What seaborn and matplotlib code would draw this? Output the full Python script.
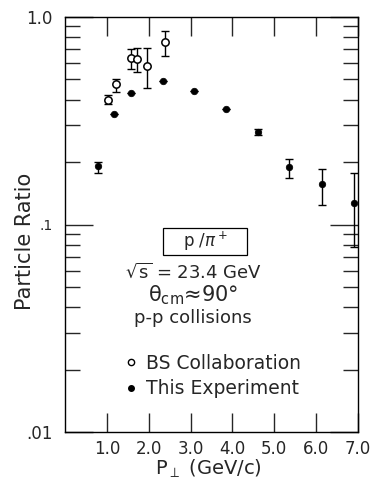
import matplotlib
matplotlib.use("Agg")
import matplotlib.pyplot as plt
import seaborn as sns
import numpy as np
import pandas as pd
from matplotlib.lines import Line2D
from matplotlib.patches import Rectangle
from matplotlib.ticker import FixedLocator, NullFormatter

# --- data ---
exp_pt = [0.78, 1.17, 1.57, 2.33, 3.09, 3.85, 4.60, 5.36, 6.14, 6.90]
exp_ratio = [0.192, 0.340, 0.432, 0.493, 0.438, 0.360, 0.280, 0.189, 0.157, 0.127]
exp_lo = [0.178, 0.340, 0.432, 0.493, 0.438, 0.360, 0.270, 0.168, 0.124, 0.078]
exp_hi = [0.200, 0.340, 0.432, 0.493, 0.438, 0.360, 0.288, 0.207, 0.185, 0.177]

bs_pt = [1.02, 1.215, 1.565, 1.72, 1.96, 2.40]
bs_ratio = [0.398, 0.474, 0.632, 0.625, 0.583, 0.758]
bs_lo = [0.380, 0.433, 0.560, 0.541, 0.456, 0.651]
bs_hi = [0.420, 0.503, 0.699, 0.707, 0.711, 0.856]

x_ticks = [1, 2, 3, 4, 5, 6, 7]
x_labels = ["1.0", "2.0", "3.0", "4.0", "5.0", "6.0", "7.0"]
y_ticks = [0.01, 0.1, 1.0]
y_labels = [".01", ".1", "1.0"]

sns.set_style("ticks")
plt.rcParams['font.family'] = ['DejaVu Sans']

fig = plt.figure(figsize=(3.70, 4.87), dpi=100)
ax = fig.add_axes([65/370, 55/487, 293/370, 415/487])

df_exp = pd.DataFrame({"pt": exp_pt, "ratio": exp_ratio})
df_bs = pd.DataFrame({"pt": bs_pt, "ratio": bs_ratio})

lw = 1.0
ax.errorbar(exp_pt, exp_ratio,
            yerr=[np.array(exp_ratio) - np.array(exp_lo), np.array(exp_hi) - np.array(exp_ratio)],
            fmt="none", ecolor="black", elinewidth=lw, capsize=3, capthick=lw, zorder=2)
ax.errorbar(bs_pt, bs_ratio,
            yerr=[np.array(bs_ratio) - np.array(bs_lo), np.array(bs_hi) - np.array(bs_ratio)],
            fmt="none", ecolor="black", elinewidth=lw, capsize=3, capthick=lw, zorder=2)

sns.scatterplot(data=df_exp, x="pt", y="ratio", ax=ax, marker="o", s=22,
                color="black", edgecolor="black", linewidth=0.5, zorder=3)
sns.scatterplot(data=df_bs, x="pt", y="ratio", ax=ax, marker="o", s=28,
                facecolor="white", edgecolor="black", linewidth=1.1, zorder=3)

ax.set_yscale("log")
ax.set_xlim(0, 7.0)
ax.set_ylim(0.01, 1.0)

ax.set_xticks(x_ticks)
ax.set_xticklabels(x_labels)
ax.yaxis.set_major_locator(FixedLocator(y_ticks))
ax.set_yticklabels(y_labels)
minor = [m * d for d in (0.01, 0.1) for m in range(2, 10)]
ax.yaxis.set_minor_locator(FixedLocator(minor))
ax.yaxis.set_minor_formatter(NullFormatter())

ax.tick_params(axis="both", which="major", direction="in", top=True, right=True,
               length=14, width=lw, labelsize=12, pad=6)
ax.tick_params(axis="y", which="major", length=20, pad=9)
ax.tick_params(axis="y", which="minor", direction="in", left=True, right=True,
               length=11, width=lw)
# the ".1" label is printed smaller in the original
ax.get_yticklabels()[1].set_fontsize(10)

for s in ax.spines.values():
    s.set_linewidth(lw)
    s.set_color("black")

ax.set_xlabel("P$_{\\perp}$ (GeV/c)", fontsize=14)
ax.xaxis.set_label_coords(0.49, -0.062)
ax.set_ylabel("Particle Ratio", fontsize=15)
ax.yaxis.set_label_coords(-0.102, 0.46)

# annotations
ax.add_patch(Rectangle((0.334, 0.4265), 0.287, 0.065, transform=ax.transAxes,
                       fill=False, ec="black", lw=0.9, zorder=4))
ax.text(0.478, 0.459, "p /$\\pi^+$", transform=ax.transAxes, ha="center", va="center",
        fontsize=12)
ax.text(0.437, 0.386, "$\\sqrt{\\mathrm{s}}$ = 23.4 GeV", transform=ax.transAxes,
        ha="center", va="center", fontsize=13)
ax.text(0.437, 0.330, "θ$_{\\mathrm{cm}}$≈90°", transform=ax.transAxes,
        ha="center", va="center", fontsize=15)
ax.text(0.437, 0.275, "p-p collisions", transform=ax.transAxes,
        ha="center", va="center", fontsize=13)

handles = [Line2D([], [], marker="o", ls="none", mfc="white", mec="black", ms=4.5, mew=1.0),
           Line2D([], [], marker="o", ls="none", mfc="black", mec="black", ms=4)]
ax.legend(handles, ["BS Collaboration", "This Experiment"], loc="center left",
          bbox_to_anchor=(0.175, 0.135), frameon=False, fontsize=13.5,
          handletextpad=0.4, handlelength=0.8, labelspacing=0.35, borderaxespad=0)

fig.savefig("out.png", dpi=100)
